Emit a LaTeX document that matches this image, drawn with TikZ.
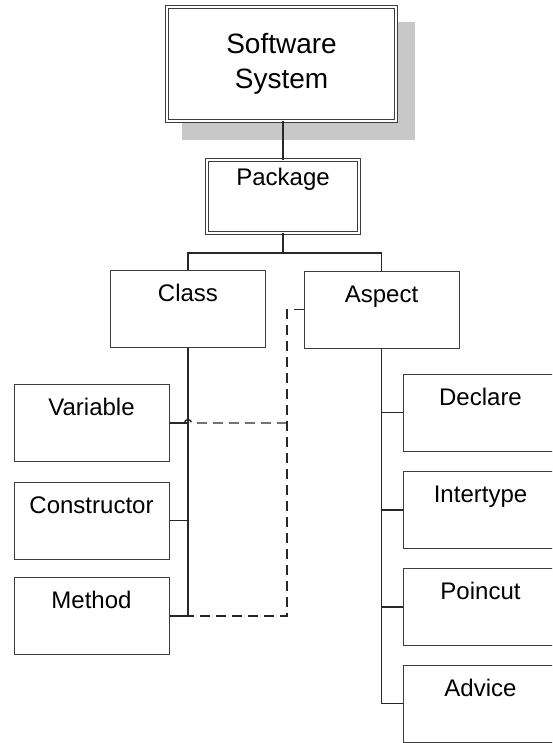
\documentclass[tikz,border=0pt]{standalone}
\usepackage{fontspec}
\setmainfont{Liberation Sans}
\usetikzlibrary{backgrounds}

\definecolor{boxline}{RGB}{60,60,60}
\definecolor{linkline}{RGB}{40,40,40}
\definecolor{shadowgray}{RGB}{200,200,200}

\begin{document}
\begin{tikzpicture}[x=1pt, y=-1pt,
  box/.style={draw=boxline, line width=1pt, fill=white, inner sep=0pt,
    text width=155pt, align=center, text height=31pt, text depth=46pt,
    font=\fontsize{24}{28}\selectfont},
  dbox/.style={draw=boxline, fill=white, double=white, double distance=2.4pt,
    line width=0.9pt, inner sep=0pt, align=center},
  link/.style={draw=linkline, line width=1.4pt},
  dashes/.style={link, dash pattern=on 10pt off 6pt}]

  \useasboundingbox (0,0) rectangle (552,743);
  \clip (0,0) rectangle (552,743);

  % Top levels
  \node[dbox, minimum width=229pt, minimum height=114pt,
        font=\fontsize{28}{35}\selectfont] (sys) at (281.5,64) {Software\\System};
  \node[dbox, text width=152pt, text height=26pt, text depth=47pt,
        font=\fontsize{24}{28}\selectfont] (pkg) at (283,196.5) {Package};

  % Shadow under the system box
  \begin{scope}[on background layer]
    \fill[shadowgray] ([shift={(15pt,-15pt)}]sys.north west)
      rectangle ([shift={(19pt,-19pt)}]sys.south east);
  \end{scope}

  % Class side
  \node[box] (cls) at (188,309) {Class};
  \node[box] (var) at (91.5,423) {Variable};
  \node[box] (con) at (91.5,520.5) {Constructor};
  \node[box] (met) at (91.5,616) {Method};

  % Aspect side
  \node[box] (asp) at (381.5,309.5) {Aspect};
  \node[box] (dec) at (480.5,412.5) {Declare};
  \node[box] (int) at (480.5,510) {Intertype};
  \node[box] (poi) at (480.5,607) {Poincut};
  \node[box] (adv) at (480.5,703.5) {Advice};

  % Tree lines
  \coordinate (bus) at (283,253);
  \draw[link] (pkg.north) -- (pkg.north |- sys.south);
  \draw[link] (pkg.south) -- (bus);
  \draw[link] (cls.north) |- (bus) -| (asp.north);

  \draw[link] (cls.south) |- (var.east);
  \draw[link] (cls.south) |- (con.east);
  \draw[link] (cls.south) |- (met.east);

  \draw[link] (asp.south) |- (dec.west);
  \draw[link] (asp.south) |- (int.west);
  \draw[link] (asp.south) |- (poi.west);
  \draw[link] (asp.south) |- (adv.west);

  % Dashed crosscutting links
  \coordinate (jog) at (287,616);
  \draw[dashes] (asp.west) -| (jog) -- (met.east -| cls.south);
  \draw[dashes] (var.east) ++(15,0)
    arc[start angle=180, end angle=360, radius=3.5] -- (var.east -| jog);

\end{tikzpicture}
\end{document}
